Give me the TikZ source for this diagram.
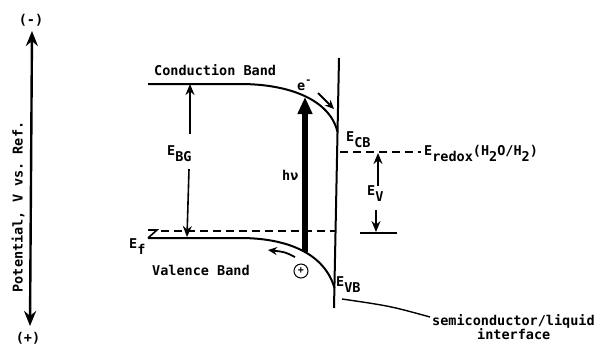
\documentclass[tikz,border=0pt]{standalone}
\usepackage{fontspec}
\setmonofont{DejaVu Sans Mono}
\usetikzlibrary{arrows.meta}
\newcommand{\lowr}[1]{\raisebox{-6pt}{#1}}
\begin{document}
\begin{tikzpicture}[x=1pt,y=-1pt,
  font=\fontsize{13.5}{14}\selectfont\ttfamily\bfseries,
  band/.style={line width=2pt},
  lbl/.style={inner sep=0pt, anchor=base west},
  arr/.style={line width=1.6pt, -{Stealth[length=11pt,width=9pt]}},
  dashline/.style={line width=1.6pt, dash pattern=on 8pt off 5pt}]
\useasboundingbox (0,0) rectangle (601,346);
% potential axis
\coordinate (axtop) at (32,31);
\coordinate (axbot) at (30,326);
\draw[line width=2.4pt, {Stealth[length=15pt,width=12pt]}-{Stealth[length=15pt,width=12pt]}] (axtop) -- (axbot);
\node[inner sep=0pt] (minus) at (31,20) {(-)};
\node[inner sep=0pt] (plus) at (28,338) {(+)};
\node[inner sep=0pt, rotate=90] (potlbl) at (18,207) {Potential, V vs. Ref.};
% interface
\coordinate (iftop) at (339,58);
\coordinate (ifbot) at (334,308);
\draw[band] (iftop) -- (ifbot);
% conduction band
\coordinate (cbl) at (148,84);
\coordinate (cbr) at (337.5,132);
\draw[band] (cbl) -- (240,84) .. controls (290,84) and (330,100) .. (cbr);
\node[lbl] (cblbl) at (154,75) {Conduction Band};
% valence band
\coordinate (vbl) at (148,238);
\coordinate (vbr) at (334.5,288);
\draw[band] (vbl) -- (240,238) .. controls (290,238) and (325,255) .. (vbr);
\node[lbl] (vblbl) at (152,275) {Valence Band};
% Fermi level
\coordinate (zl) at (148,230);
\draw[line width=1.6pt] (zl) -- (157,230) -- (vbl);
\coordinate (fl) at (161,231);
\coordinate (fr) at (336,231);
\draw[dashline] (fl) -- (fr);
\node[lbl] (ef) at (129,248) {E\lowr{f}};
% band gap
\node[lbl] (ebg) at (167,155) {E\lowr{BG}};
\coordinate (bgtop) at (190,84);
\coordinate (bgbot) at (187,237);
\draw[arr] (190,134) -- (bgtop);
\draw[arr] (189,169) -- (bgbot);
% photon
\coordinate (hvbot) at (305,252);
\coordinate (hvtop) at (305,97);
\draw[line width=6.5pt, -{Triangle[length=17pt,width=14pt]}] (hvbot) -- (hvtop);
\node[lbl] (hv) at (282,180) {hν};
% electron
\node[lbl] (eminus) at (297,90) {e\raisebox{7pt}{\fontsize{10}{10}\selectfont -}};
\coordinate (ea) at (318,93);
\coordinate (eb) at (334,109);
\draw[line width=1.8pt, -{Stealth[length=9pt,width=8pt]}] (ea) -- (eb);
% hole
\node[circle, draw, line width=1pt, minimum size=14pt, inner sep=0pt] (hole) at (301,271) {\fontsize{10}{10}\selectfont +};
\coordinate (ha) at (295,257);
\coordinate (hb) at (268,250);
\draw[line width=1.8pt, -{Stealth[length=9pt,width=8pt]}] (ha) .. controls (285,252) .. (hb);
% E_CB, E_VB
\node[lbl] (ecb) at (346,141) {E\lowr{CB}};
\node[lbl] (evb) at (336,286) {E\lowr{VB}};
% redox level
\coordinate (rl) at (340,152);
\coordinate (rr) at (421,152);
\draw[dashline] (rl) -- (rr);
\node[lbl] (redox) at (424,155) {E\lowr{redox}(H\lowr{2}O/H\lowr{2})};
% E_V
\coordinate (evtop) at (378,153);
\coordinate (evbot) at (376,232);
\draw[line width=1.8pt] (360,233) -- (397,233);
\draw[arr] (378,186) -- (evtop);
\draw[arr] (376,210) -- (evbot);
\node[lbl] (ev) at (367,195) {E\lowr{V}};
% interface label
\node[lbl] (sl) at (432,325) {semiconductor/liquid};
\node[lbl] (intf) at (477,339) {interface};
\coordinate (lead) at (342,299);
\draw[line width=1.4pt] (lead) .. controls (390,306) .. (430,317);
\end{tikzpicture}
\end{document}
